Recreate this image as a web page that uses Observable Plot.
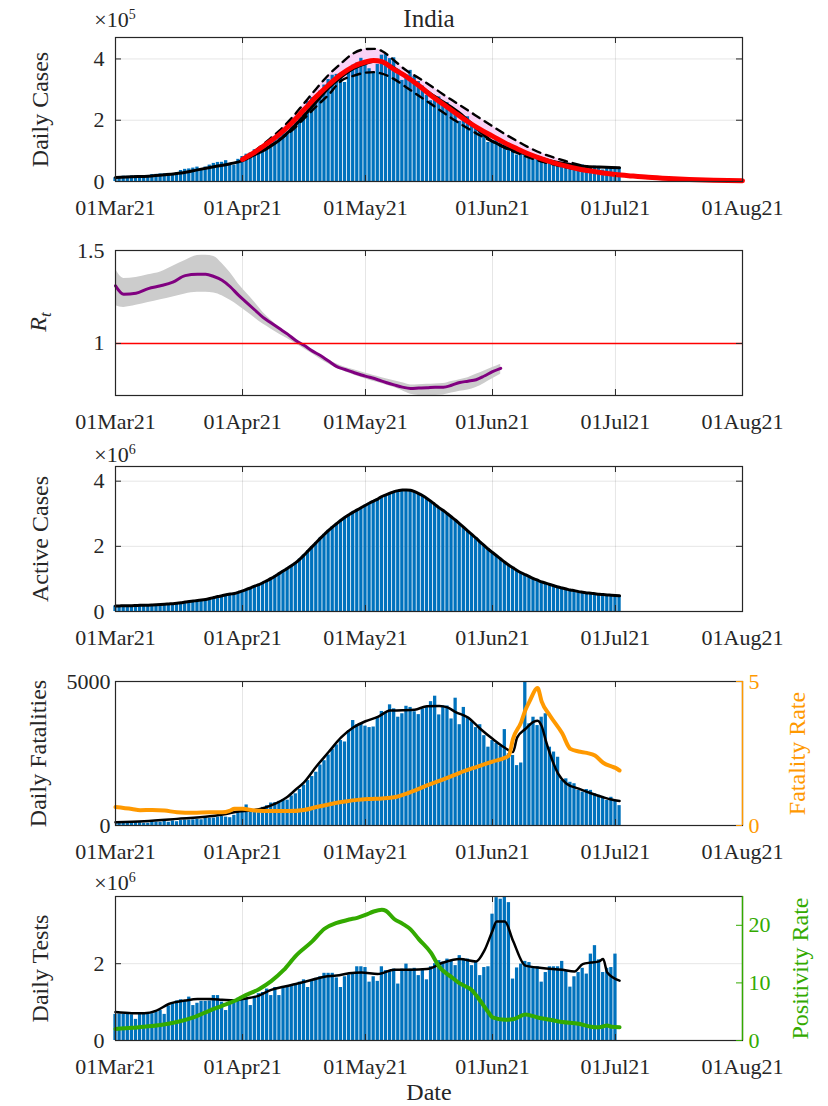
<!DOCTYPE html>
<html><head><meta charset="utf-8">
<script src="https://cdn.jsdelivr.net/npm/d3@7"></script>
<script src="https://cdn.jsdelivr.net/npm/@observablehq/plot@0.6"></script>
<style>
body{margin:0;background:#fff;}
#chart{width:828px;}
#chart svg{display:block;}
</style></head><body><div id="chart"></div>
<script>
// ---------------- DATA (day index 0 = 01 Mar 2021) ----------------
const monthLabels = ["01Mar21","01Apr21","01May21","01Jun21","01Jul21","01Aug21"];
const monthDays = [0, 31, 61, 92, 122, 153];

// Panel 1: daily cases (thousands)
const dailyCasesK = [12.3,15.0,17.4,16.8,18.3,18.7,18.6,15.4,17.9,22.9,23.3,24.9,25.3,26.3,24.5,28.9,35.9,39.7,41.0,43.8,47.0,40.7,47.3,53.5,59.1,62.3,62.7,68.0,56.2,53.5,72.3,
81.5,89.1,93.2,103.6,97.0,115.7,126.8,132.0,145.4,152.9,168.9,161.7,184.4,200.7,217.4,234.7,261.5,273.8,259.2,295.0,314.8,332.7,346.8,349.7,353.0,323.1,361.0,379.3,386.5,402.0,
392.5,368.1,357.2,382.3,412.3,414.2,401.1,403.7,366.2,329.9,348.4,362.7,343.1,326.1,311.2,281.4,263.5,267.3,276.1,259.6,257.3,240.8,222.3,196.4,208.9,211.3,186.4,173.8,165.6,152.7,127.5,
132.8,134.2,132.4,120.5,114.5,100.6,86.5,92.6,94.1,91.7,84.3,80.8,70.4,60.5,62.2,67.2,62.5,60.8,58.4,53.3,42.6,50.8,54.1,51.7,48.7,50.0,46.1,37.6,46.0,48.8,46.6,44.1];
const casesAvgDay = [0,4,8,12,16,20,24,28,31,34,37,40,43,46,49,52,55,58,61,64,67,70,73,76,79,82,85,88,91,94,97,100,103,106,109,112,115,118,121,123];
const casesAvgK  = [13,15.5,17.5,22,28,38,48,58,68,88,108,135,172,215,260,305,340,368,385,393,378,352,325,295,268,242,212,175,140,118,102,90,80,68,60,53,49,47,46,45];
const fitDay = [31,34,37,40,43,46,49,52,55,58,61,63,65,68,71,74,77,80,83,86,89,92,95,98,101,104,107,110,113,116,119,122,126,130,135,140,146,153];
const fitK   = [72,96,124,154,191,234,277,315,349,375,390,395,391,366,342,313,281,252,223,195,170,148,126,107,89,74,61,50,41,34,28,23,18,13.5,9.5,6.5,4.2,2.5];
const boundDay = [31,34,37,40,43,46,49,52,55,58,61,63,65,68,71,74,77,80,83,86,89,92,95,98,101,104,107,110,113,116];
const upperK   = [74,100,132,166,207,255,303,348,385,418,432,433,426,395,362,338,312,284,258,232,206,180,155,132,110,92,78,66,55,45];
const lowerK   = [70,88,110,136,166,205,245,283,328,345,355,357,352,334,307,280,253,225,198,173,150,130,110,93,78,65,55,46,38,32];

// Panel 2: reproduction number
const rtDay   = [0,2,5,8,11,14,17,20,22,24,26,28,30,32,34,36,38,40,42,44,46,48,50,52,54,56,58,60,62,64,66,68,70,72,74,76,78,80,82,84,86,88,90,92,94];
const rtValue = [1.31,1.265,1.27,1.295,1.31,1.33,1.365,1.372,1.372,1.36,1.34,1.305,1.26,1.22,1.18,1.14,1.11,1.08,1.05,1.016,0.99,0.96,0.935,0.905,0.875,0.86,0.845,0.83,0.818,0.805,0.79,0.777,0.765,0.758,0.76,0.762,0.765,0.765,0.775,0.79,0.797,0.805,0.825,0.848,0.866];
const rtUpper = [1.40,1.35,1.355,1.37,1.385,1.415,1.446,1.473,1.475,1.468,1.43,1.38,1.32,1.27,1.22,1.167,1.125,1.086,1.055,1.02,0.99,0.962,0.933,0.91,0.89,0.872,0.86,0.847,0.834,0.822,0.81,0.80,0.788,0.777,0.778,0.78,0.782,0.784,0.795,0.805,0.815,0.834,0.852,0.87,0.888];
const rtLower = [1.203,1.194,1.205,1.22,1.235,1.25,1.266,1.275,1.275,1.272,1.257,1.232,1.203,1.17,1.137,1.104,1.077,1.05,1.025,0.998,0.972,0.944,0.915,0.89,0.866,0.848,0.832,0.817,0.802,0.79,0.776,0.763,0.745,0.727,0.72,0.718,0.72,0.723,0.733,0.743,0.75,0.763,0.785,0.81,0.834];

// Panel 3: active cases (millions)
const activeM = [0.170,0.172,0.174,0.177,0.180,0.184,0.188,0.190,0.192,0.198,0.205,0.213,0.222,0.232,0.240,0.253,0.270,0.290,0.305,0.322,0.338,0.350,0.370,0.398,0.428,0.458,0.484,0.515,0.535,0.555,0.590,
0.632,0.680,0.725,0.780,0.825,0.885,0.950,1.015,1.09,1.17,1.25,1.33,1.41,1.50,1.61,1.73,1.86,1.99,2.12,2.25,2.37,2.49,2.60,2.70,2.80,2.89,2.97,3.05,3.12,3.19,
3.26,3.33,3.39,3.45,3.53,3.58,3.63,3.68,3.71,3.73,3.73,3.72,3.68,3.62,3.55,3.47,3.38,3.28,3.18,3.10,3.00,2.90,2.80,2.69,2.58,2.47,2.36,2.25,2.13,2.02,1.91,
1.81,1.71,1.61,1.51,1.42,1.34,1.26,1.19,1.13,1.07,1.01,0.96,0.91,0.87,0.83,0.79,0.75,0.72,0.69,0.66,0.64,0.61,0.59,0.57,0.56,0.545,0.53,0.52,0.51,0.50,0.49,0.48];

// Panel 4: daily fatalities and fatality rate (%)
const dailyDeaths = [110,106,98,113,108,101,97,77,78,131,117,113,161,112,161,131,172,188,188,197,212,199,275,251,257,291,312,291,271,354,459,
469,714,513,478,446,630,685,780,794,839,904,879,1027,1100,1250,1400,1560,1700,1850,2100,2250,2450,2650,2800,2950,2900,3293,3645,3498,3523,
3450,3400,3420,3750,3960,3900,4190,4050,3760,3880,4140,4100,3950,3850,4050,4120,4300,4490,3840,4150,4150,3700,4420,3500,4100,3760,3600,3400,3500,3120,2720,
2950,2850,2750,3330,2490,2430,2080,2170,5000,3530,3760,3470,3760,3880,2720,2550,2370,1560,1620,1500,1450,1220,1160,1250,1220,1100,1050,980,870,980,870,690];
const deathsAvgDay = [0,7,15,23,27,30,33,36,39,42,44,46,49,52,55,58,61,64,67,70,73,76,79,81,83,86,89,92,95,97,98,100,102,103,104,105,106,108,110,113,116,119,121,123];
const deathsAvg    = [115,150,230,320,400,490,520,600,760,1000,1250,1500,2050,2550,3050,3400,3620,3770,3990,4000,4020,4140,4150,4100,3940,3750,3360,3010,2700,2550,3050,3350,3600,3640,3450,2950,2500,1800,1460,1280,1120,980,900,850];
const fatalityDay  = [0,4,6,9,12,15,19,23,26,28,29,31,34,38,42,46,49,52,56,59,62,65,68,72,76,80,84,88,92,95,96,97,99,100,101,103,104,106,109,111,113,115,117,119,121,122,123];
const fatalityRate = [0.64,0.57,0.53,0.54,0.52,0.46,0.44,0.46,0.46,0.52,0.58,0.58,0.52,0.50,0.50,0.54,0.64,0.73,0.83,0.89,0.92,0.94,0.98,1.16,1.39,1.60,1.83,2.03,2.22,2.35,2.43,3.01,3.59,4.0,4.3,4.77,4.3,3.82,3.20,2.66,2.57,2.52,2.43,2.18,2.05,2.0,1.91];

// Panel 5: daily tests (millions) and positivity rate (%)
const dailyTestsM = [0.68,0.69,0.68,0.70,0.67,0.55,0.68,0.70,0.72,0.70,0.74,0.78,0.68,0.90,0.97,1.03,1.06,1.04,1.13,0.91,0.97,1.02,1.02,1.03,1.17,1.17,1.00,0.78,1.00,1.05,
1.10,1.13,1.09,0.91,1.13,1.22,1.25,1.34,1.17,1.38,1.17,1.38,1.43,1.45,1.47,1.52,1.58,1.38,1.56,1.62,1.66,1.75,1.75,1.75,1.63,1.38,1.66,1.71,1.75,1.92,1.92,
1.90,1.52,1.66,1.54,1.92,1.82,1.82,1.86,1.47,1.86,1.99,1.86,1.88,1.69,1.86,1.58,1.92,2.00,2.08,2.04,2.12,2.08,1.95,2.21,2.12,2.12,1.95,2.04,1.69,1.90,
1.92,3.29,3.72,3.68,3.74,3.59,1.60,1.89,1.99,2.06,2.03,1.90,1.92,1.52,1.77,1.92,1.92,1.92,2.06,1.82,1.39,1.66,1.77,1.88,1.73,2.25,2.47,2.10,1.77,1.88,1.90,2.25];
const testsAvgDay = [0,4,7,10,13,17,20,23,26,29,31,35,38,41,44,48,51,54,57,60,64,68,72,76,80,84,88,90,92,93,95,97,100,104,109,112,114,116,118,119,120,123];
const testsAvgM   = [0.74,0.71,0.71,0.78,0.95,1.04,1.08,1.08,1.06,1.04,1.08,1.17,1.32,1.40,1.47,1.58,1.66,1.69,1.75,1.77,1.73,1.84,1.84,1.86,2.03,2.12,2.06,2.34,2.86,3.10,3.10,2.60,1.95,1.89,1.84,1.80,1.99,2.03,2.06,2.12,1.77,1.56];
const positivityDay  = [0,4,7,11,15,19,23,26,30,31,35,38,41,44,48,51,54,57,59,61,63,65,66,68,70,72,74,77,79,82,84,87,89,91,92,95,97,100,103,106,109,113,116,118,120,121,123];
const positivityRate = [2.0,2.2,2.4,2.7,3.2,4.0,5.2,6.0,7.2,7.6,8.9,10.3,12.2,14.7,17.2,19.4,20.4,21.0,21.3,21.8,22.4,22.7,22.5,21.1,20.3,19.3,17.6,15.2,12.8,11.0,9.9,8.7,6.9,4.9,4.0,3.6,3.7,4.5,4.0,3.6,3.2,2.9,2.4,2.3,2.6,2.4,2.3];

// ---------------- STYLE ----------------
const FONT = "'Liberation Serif','Times New Roman',serif";
const INK = "#262626", BLUE = "#0072BD", ORANGE = "#FF9900", GREEN = "#33AA00", PURPLE = "#800080";
const W = 828, ML = 115, MR = 86, FW = W - ML - MR;
const TICK_FS = 22, LABEL_FS = 24;
const day = i => new Date(Date.UTC(2021, 2, 1 + i));
const xDomain = [day(0), day(153)];
const monthTicks = monthDays.map(day);
const fmtMonth = d => monthLabels[monthDays.indexOf(Math.round((d - day(0)) / 864e5))];
const HALF = 0.4 * 864e5;
const barRows = vals => vals.map((v, i) => ({x1: new Date(+day(i) - HALF), x2: new Date(+day(i) + HALF), v}));
const rows = (days, vals) => days.map((d, i) => ({date: day(d), v: vals[i]}));
const bandRows = (days, lo, hi) => days.map((d, i) => ({date: day(d), lo: lo[i], hi: hi[i]}));

function panel({height, mt, mb, yDomain, yTicks, yFmt, yPad = 11, marks, right}) {
  const fh = height - mt - mb;
  const m = [
    Plot.gridX(monthTicks, {stroke: "#000", strokeOpacity: 0.1}),
    Plot.gridY(yTicks, {stroke: "#000", strokeOpacity: 0.1}),
    ...marks,
    Plot.frame({stroke: INK, strokeWidth: 1.2}),
    Plot.tickX(monthTicks, {x: d => d, insetTop: fh - 6, stroke: INK}),
    Plot.tickX(monthTicks, {x: d => d, insetBottom: fh - 6, stroke: INK}),
    Plot.tickY(yTicks, {y: d => d, insetRight: FW - 6, stroke: INK}),
    Plot.axisX(monthTicks, {tickFormat: fmtMonth, tickSize: 0, tickPadding: 18, fontSize: TICK_FS, label: null}),
    Plot.axisY(yTicks, {tickFormat: yFmt, tickSize: 0, tickPadding: yPad, fontSize: TICK_FS, label: null})
  ];
  if (!right) {
    m.push(Plot.tickY(yTicks, {y: d => d, insetLeft: FW - 6, stroke: INK}));
  } else {
    m.push(Plot.ruleX([xDomain[1]], {stroke: right.color, strokeWidth: 1.4}));
    m.push(Plot.tickY(right.ticks, {y: d => d, insetLeft: FW - 6, stroke: right.color}));
    m.push(Plot.axisY(right.ticks, {anchor: "right", tickFormat: right.fmt, tickSize: 0, tickPadding: 6, fontSize: TICK_FS, label: null, color: right.color}));
  }
  return Plot.plot({
    width: W, height, marginLeft: ML, marginRight: MR, marginTop: mt, marginBottom: mb,
    style: {fontFamily: FONT, fontSize: TICK_FS + "px", color: INK, background: "white"},
    x: {type: "utc", domain: xDomain, label: null},
    y: {domain: yDomain, label: null},
    marks: m
  });
}

function ylabel(text, dx, color = INK) {
  return Plot.text([text], {text: d => d, frameAnchor: dx < 0 ? "left" : "right", dx, rotate: -90,
    textAnchor: "middle", lineAnchor: "middle", fontSize: LABEL_FS, fill: color});
}
function times10(svg, exp, x, y) {
  const t = d3.select(svg).append("text").attr("x", x).attr("y", y)
    .attr("font-family", FONT).attr("font-size", TICK_FS).attr("fill", INK);
  t.append("tspan").text("×10");
  t.append("tspan").attr("dy", -8).attr("font-size", 14).text(exp);
}

const chart = document.getElementById("chart");

// Panel 1  (page y 0–230)
const p1 = panel({
  height: 230, mt: 37, mb: 49, yDomain: [0, 470], yTicks: [0, 200, 400], yFmt: d => String(d / 100),
  marks: [
    Plot.areaY(bandRows(boundDay, lowerK, upperK), {x: "date", y1: "lo", y2: "hi", fill: "#f9d2f6", curve: "monotone-x"}),
    Plot.rectY(barRows(dailyCasesK), {x1: "x1", x2: "x2", y: "v", fill: BLUE}),
    Plot.line(rows(casesAvgDay, casesAvgK), {x: "date", y: "v", stroke: "black", strokeWidth: 3, curve: "monotone-x"}),
    Plot.line(rows(boundDay, upperK), {x: "date", y: "v", stroke: "black", strokeWidth: 2.4, strokeDasharray: "8,6", curve: "monotone-x"}),
    Plot.line(rows(boundDay, lowerK), {x: "date", y: "v", stroke: "black", strokeWidth: 2.4, strokeDasharray: "8,6", curve: "monotone-x"}),
    Plot.line(rows(fitDay, fitK), {x: "date", y: "v", stroke: "#ff0000", strokeWidth: 5, curve: "monotone-x"}),
    ylabel("Daily Cases", -75),
    Plot.text(["India"], {text: d => d, frameAnchor: "top", dy: -19, lineAnchor: "middle", fontSize: 25, fill: INK})
  ]
});
times10(p1, "5", 115, 27);
chart.appendChild(p1);

// Panel 2  (page y 230–440)
const p2 = panel({
  height: 210, mt: 20, mb: 45, yDomain: [0.72, 1.5], yTicks: [1, 1.5], yFmt: d => String(d),
  marks: [
    Plot.areaY(bandRows(rtDay, rtLower, rtUpper), {x: "date", y1: "lo", y2: "hi", fill: "#cccccc", curve: "monotone-x", clip: true}),
    Plot.line(rows(rtDay, rtValue), {x: "date", y: "v", stroke: PURPLE, strokeWidth: 3, curve: "monotone-x"}),
    Plot.ruleY([1], {stroke: "#ff0000", strokeWidth: 1.4})
  ]
});
{
  const t = d3.select(p2).append("text").attr("transform", "translate(46,92) rotate(-90)")
    .attr("text-anchor", "middle").attr("font-family", FONT).attr("font-size", LABEL_FS).attr("font-style", "italic").attr("fill", INK);
  t.append("tspan").text("R");
  t.append("tspan").attr("dy", 5).attr("font-size", 17).text("t");
}
chart.appendChild(p2);

// Panel 3  (page y 440–660)
const p3 = panel({
  height: 220, mt: 26, mb: 49, yDomain: [0, 4.45], yTicks: [0, 2, 4], yFmt: d => String(d),
  marks: [
    Plot.rectY(barRows(activeM), {x1: "x1", x2: "x2", y: "v", fill: BLUE}),
    Plot.line(activeM.map((v, i) => ({date: day(i), v})), {x: "date", y: "v", stroke: "black", strokeWidth: 3, curve: "monotone-x"}),
    ylabel("Active Cases", -75)
  ]
});
times10(p3, "6", 115, 22);
chart.appendChild(p3);

// Panel 4  (page y 660–870)
const p4 = panel({
  height: 210, mt: 21, mb: 45, yDomain: [0, 5000], yTicks: [0, 5000], yFmt: d => String(d), yPad: 5,
  right: {color: ORANGE, ticks: [0, 5000], fmt: d => String(d / 1000)},
  marks: [
    Plot.rectY(barRows(dailyDeaths), {x1: "x1", x2: "x2", y: "v", fill: BLUE, clip: true}),
    Plot.line(rows(deathsAvgDay, deathsAvg), {x: "date", y: "v", stroke: "black", strokeWidth: 2.5, curve: "monotone-x"}),
    Plot.line(fatalityDay.map((d, i) => ({date: day(d), v: fatalityRate[i] * 1000})), {x: "date", y: "v", stroke: ORANGE, strokeWidth: 4, curve: "monotone-x"}),
    ylabel("Daily Fatalities", -77),
    ylabel("Fatality Rate", 55, ORANGE)
  ]
});
chart.appendChild(p4);

// Panel 5  (page y 870–1106)
const POS = 3.75 / 25;
const p5 = panel({
  height: 236, mt: 26, mb: 66, yDomain: [0, 3.75], yTicks: [0, 2], yFmt: d => String(d),
  right: {color: GREEN, ticks: [0, 10, 20].map(p => p * POS), fmt: d => String(Math.round(d / POS))},
  marks: [
    Plot.rectY(barRows(dailyTestsM), {x1: "x1", x2: "x2", y: "v", fill: BLUE}),
    Plot.line(rows(testsAvgDay, testsAvgM), {x: "date", y: "v", stroke: "black", strokeWidth: 2.5, curve: "monotone-x"}),
    Plot.line(positivityDay.map((d, i) => ({date: day(d), v: positivityRate[i] * POS})), {x: "date", y: "v", stroke: GREEN, strokeWidth: 4, curve: "monotone-x"}),
    ylabel("Daily Tests", -75),
    ylabel("Positivity Rate", 58, GREEN),
    Plot.text(["Date"], {text: d => d, frameAnchor: "bottom", dy: 52, lineAnchor: "middle", fontSize: LABEL_FS, fill: INK})
  ]
});
times10(p5, "6", 115, 20);
chart.appendChild(p5);
</script></body></html>
